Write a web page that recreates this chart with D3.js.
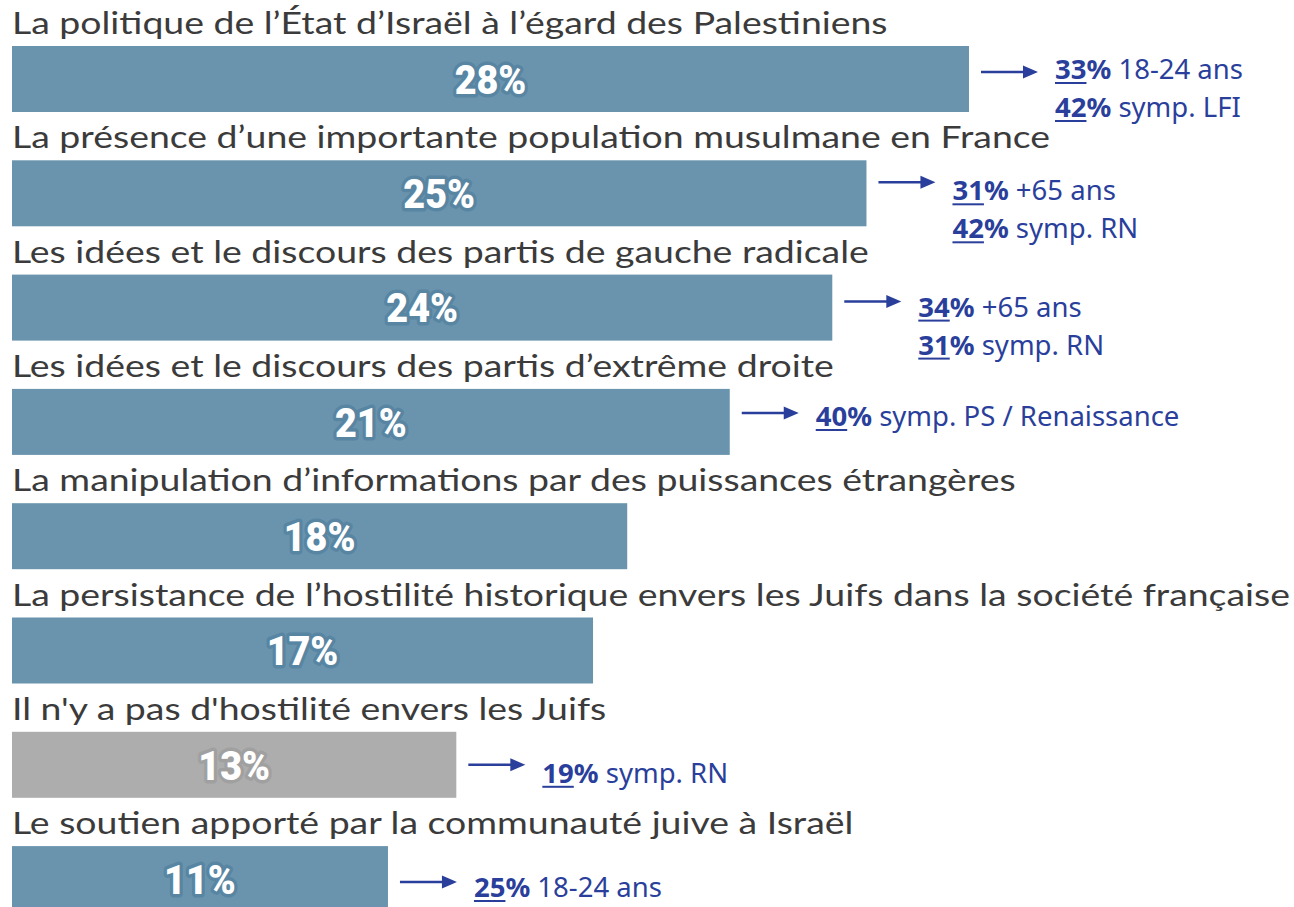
<!DOCTYPE html>
<html>
<head>
<meta charset="utf-8">
<script src="https://cdn.jsdelivr.net/npm/d3@7"></script>
<style>
  body { margin: 0; background: #fff; }
  svg { display: block; }
</style>
</head>
<body>
<div id="vis"></div>
<script>
// data
var categories = [
  "La politique de l’État d’Israël à l’égard des Palestiniens",
  "La présence d’une importante population musulmane en France",
  "Les idées et le discours des partis de gauche radicale",
  "Les idées et le discours des partis d’extrême droite",
  "La manipulation d’informations par des puissances étrangères",
  "La persistance de l’hostilité historique envers les Juifs dans la société française",
  "Il n'y a pas d'hostilité envers les Juifs",
  "Le soutien apporté par la communauté juive à Israël"
];
var values = [28, 25, 24, 21, 18, 17, 13, 11];
var neutralCategory = "Il n'y a pas d'hostilité envers les Juifs";

// sub-group call-outs
var noteRow = [0, 0, 1, 1, 2, 2, 3, 6, 7];
var noteValue = [33, 42, 31, 42, 34, 31, 40, 19, 25];
var noteLabel = ["18-24 ans", "symp. LFI", "+65 ans", "symp. RN", "+65 ans", "symp. RN",
                 "symp. PS / Renaissance", "symp. RN", "18-24 ans"];
var noteLine = [0, 1, 0, 1, 0, 1, 0, 0, 0];

var width = 1294, height = 907;
var barH = 66;
var blue = "#6a94ae", blueEdge = "#5885a2";
var grey = "#adadad", greyEdge = "#a0a0a0";
var ink = "#3b3b3b", noteBlue = "#2a3f9b";

var arrowDy = {0: 26, 1: 22, 2: 27, 3: 24, 6: 33, 7: 36};
var textDy = {0: 33, 1: 40, 2: 42, 3: 37, 6: 51, 7: 51};

var svg = d3.select("#vis").append("svg")
  .attr("width", width)
  .attr("height", height);

var x = d3.scaleLinear().domain([0, 28]).range([12, 969]);
var y = d3.scalePoint().domain(categories).range([46, 46 + 7 * 114.3]);

// category labels
var labels = svg.selectAll(".cat-label")
  .data(categories)
  .enter()
  .append("text")
    .attr("class", "cat-label")
    .attr("x", 12)
    .attr("y", function(d){ return y(d) - 12 })
    .style("font-family", "Lato, sans-serif")
    .style("font-size", "30px")
    .attr("fill", ink)
    .text(function(d){ return d });

// squeeze / stretch so the longest line spans the full width like the original
var longest = labels.nodes()[5].getComputedTextLength();
var k = 1278 / longest;
labels.each(function(){
  var w = this.getComputedTextLength();
  d3.select(this).attr("textLength", w * k).attr("lengthAdjust", "spacingAndGlyphs");
});

// bars
svg.selectAll(".bar")
  .data(categories)
  .enter()
  .append("rect")
    .attr("class", "bar")
    .attr("x", x(0))
    .attr("y", function(d){ return y(d) })
    .attr("width", function(d, i){ return x(values[i]) - x(0) })
    .attr("height", barH)
    .attr("fill", function(d){ return d === neutralCategory ? grey : blue });

// values inside bars
var vals = svg.selectAll(".val")
  .data(categories)
  .enter()
  .append("text")
    .attr("class", "val")
    .attr("x", function(d, i){ return (x(0) + x(values[i])) / 2 })
    .attr("y", function(d){ return y(d) + barH / 2 })
    .attr("dy", "0.36em")
    .attr("text-anchor", "middle")
    .style("font-family", "Roboto, sans-serif")
    .style("font-weight", "900")
    .style("font-size", "41px")
    .style("paint-order", "stroke")
    .attr("stroke", function(d){ return d === neutralCategory ? greyEdge : blueEdge })
    .attr("stroke-width", 7)
    .attr("stroke-linejoin", "round")
    .attr("fill", "#fff")
    .text(function(d, i){ return values[i] + "%" });

// condensed look
vals.each(function(){
  var w = this.getComputedTextLength();
  d3.select(this).attr("textLength", w * 0.92).attr("lengthAdjust", "spacingAndGlyphs");
});

// call-outs
var notes = noteValue.map(function(v, i){
  return { row: noteRow[i], value: v, label: noteLabel[i], line: noteLine[i] };
});

var arrows = notes.filter(function(d){ return d.line === 0 });
var arrowG = svg.selectAll(".arrow")
  .data(arrows)
  .enter()
  .append("g")
    .attr("class", "arrow")
    .attr("transform", function(d){
      return "translate(" + (x(values[d.row]) + 12) + "," + (y(categories[d.row]) + arrowDy[d.row]) + ")";
    });
arrowG.append("line")
  .attr("x1", 0).attr("x2", 44)
  .attr("y1", 0).attr("y2", 0)
  .attr("stroke", noteBlue)
  .attr("stroke-width", 2.5);
arrowG.append("path")
  .attr("d", "M42,-6.5 L57,0 L42,6.5 Z")
  .attr("fill", noteBlue);

var noteText = svg.selectAll(".note")
  .data(notes)
  .enter()
  .append("text")
    .attr("class", "note")
    .attr("x", function(d){ return x(values[d.row]) + 86 })
    .attr("y", function(d){ return y(categories[d.row]) + textDy[d.row] + d.line * 38 })
    .style("font-family", "'Noto Sans', 'Open Sans', sans-serif")
    .style("font-size", "27.5px")
    .attr("fill", noteBlue);

noteText.append("tspan")
  .style("font-weight", "bold")
  .text(function(d){ return d.value + "%" });
noteText.append("tspan")
  .text(function(d){ return " " + d.label });

// underline the digits only
noteText.each(function(d){
  var t = d3.select(this);
  var w = this.getSubStringLength(0, String(d.value).length);
  var x0 = +t.attr("x"), y0 = +t.attr("y") + 4;
  svg.append("line")
    .attr("x1", x0).attr("x2", x0 + w)
    .attr("y1", y0).attr("y2", y0)
    .attr("stroke", noteBlue)
    .attr("stroke-width", 2);
});
</script>
</body>
</html>
